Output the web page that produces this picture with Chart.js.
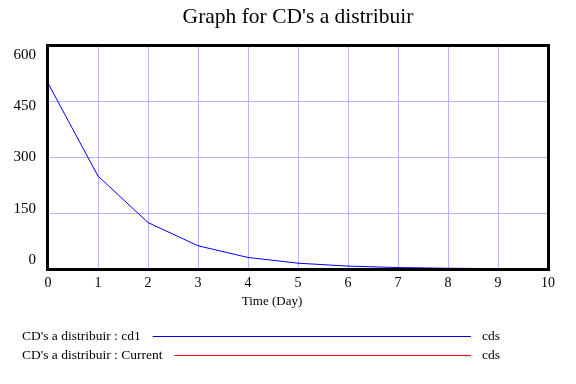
<!DOCTYPE html>
<html>
<head>
<meta charset="utf-8">
<script src="https://cdn.jsdelivr.net/npm/chart.js@4/dist/chart.umd.min.js"></script>
<style>
  html, body { margin: 0; padding: 0; background: #fff; }
  canvas { display: block; }
</style>
</head>
<body>
<canvas id="chart" width="576" height="384"></canvas>
<script>
// values
const days = [0, 1, 2, 3, 4, 5, 6, 7, 8, 9, 10];
const cd1Values = [500, 250, 125, 62.5, 31, 15.6, 7.8, 3.9, 2, 1, 0.5];
const currentValues = []; // not visible in the plot
const yTickValues = [0, 150, 300, 450, 600];

const titleText = "Graph for CD's a distribuir";
const xTitleText = 'Time (Day)';
const seriesLabels = ["CD's a distribuir : cd1", "CD's a distribuir : Current"];
const seriesColors = ['#0000ff', '#ff0000'];
const unitText = 'cds';

const serif = '"Liberation Serif", "Times New Roman", serif';
const gridColor = '#b4b4ff';

const toPoints = (xs, ys) => ys.map((y, i) => ({ x: xs[i], y: y }));

// title, axis title, frame and the bottom legend
const decorations = {
  id: 'decorations',
  afterDraw(chart) {
    const { ctx, chartArea: { left, top, right, bottom } } = chart;
    ctx.save();

    ctx.strokeStyle = '#000';
    ctx.lineWidth = 3;
    ctx.strokeRect(left - 0.5, top - 0.5, right - left + 1, bottom - top + 1);

    ctx.fillStyle = '#000';
    ctx.textBaseline = 'middle';
    ctx.textAlign = 'center';
    ctx.font = '21.5px ' + serif;
    ctx.fillText(titleText, (left + right) / 2, 17);

    ctx.font = '13px ' + serif;
    ctx.fillText(xTitleText, 272, 302);

    ctx.font = '13.5px ' + serif;
    ctx.textAlign = 'left';
    const rows = [336, 355];
    seriesLabels.forEach((label, i) => {
      const y = rows[i];
      ctx.fillStyle = '#000';
      ctx.fillText(label, 22, y);
      const start = 22 + ctx.measureText(label).width + 12;
      ctx.strokeStyle = seriesColors[i];
      ctx.lineWidth = 1;
      ctx.beginPath();
      ctx.moveTo(start, y + 0.5);
      ctx.lineTo(471, y + 0.5);
      ctx.stroke();
      ctx.fillText(unitText, 482, y);
    });
    ctx.restore();
  },
};

new Chart(document.getElementById('chart'), {
  type: 'line',
  data: {
    datasets: [
      {
        label: seriesLabels[0],
        data: toPoints(days, cd1Values),
        borderColor: seriesColors[0],
        borderWidth: 1,
        pointRadius: 0,
        tension: 0,
        fill: false,
        yAxisID: 'y',
      },
      {
        label: seriesLabels[1],
        data: toPoints(days, currentValues),
        borderColor: seriesColors[1],
        borderWidth: 1,
        pointRadius: 0,
        tension: 0,
        fill: false,
        yAxisID: 'y',
      },
    ],
  },
  options: {
    responsive: false,
    animation: false,
    layout: {
      padding: { top: 46, right: 28, bottom: 85, left: 0 },
    },
    plugins: {
      legend: { display: false },
      tooltip: { enabled: false },
      title: { display: false },
    },
    scales: {
      x: {
        type: 'linear',
        min: 0,
        max: 10,
        ticks: { stepSize: 1, color: '#000', font: { family: serif, size: 14 }, padding: 6, maxRotation: 0 },
        grid: { color: gridColor, drawTicks: false },
        border: { display: false },
        afterFit(scale) { scale.height = 30; },
      },
      y: {
        type: 'linear',
        position: 'left',
        weight: 0,
        min: 0,
        max: 600,
        ticks: { display: false, stepSize: 150 },
        grid: { color: gridColor, drawTicks: false },
        border: { display: false },
        afterFit(scale) { scale.width = 0; },
      },
      yl: {
        type: 'linear',
        position: 'left',
        weight: 1,
        min: -26.34,
        max: 626.34,
        ticks: { color: '#000', font: { family: serif, size: 15 }, padding: 12 },
        grid: { display: false, drawTicks: false },
        border: { display: false },
        afterBuildTicks(scale) { scale.ticks = yTickValues.map((v) => ({ value: v })); },
        afterFit(scale) { scale.width = 48; },
      },
    },
  },
  plugins: [decorations],
});
</script>
</body>
</html>
